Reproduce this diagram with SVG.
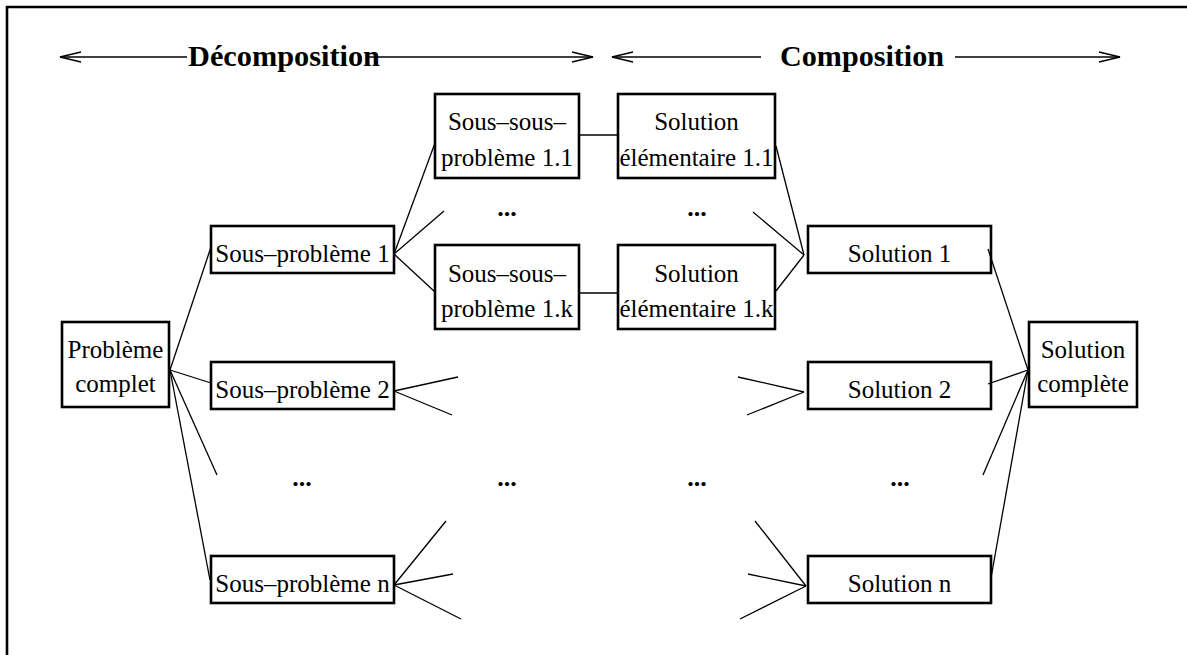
<svg xmlns="http://www.w3.org/2000/svg" width="1187" height="655" viewBox="0 0 1187 655">
  <style>
    .frame { fill: none; stroke: #000; stroke-width: 2.6; }
    .box { fill: #fff; stroke: #000; stroke-width: 2.6; }
    .t { font-family: "Liberation Serif", "Times New Roman", serif; font-size: 25px; text-anchor: middle; fill: #000; }
    .h { font-family: "Liberation Serif", "Times New Roman", serif; font-size: 29px; font-weight: bold; text-anchor: middle; fill: #000; }
    .dots { font-family: "Liberation Serif", "Times New Roman", serif; font-size: 26px; font-weight: bold; text-anchor: middle; fill: #000; }
    .ln { stroke: #000; stroke-width: 1.3; fill: none; }
  </style>

  <!-- outer frame (only top and left edges fall inside the page) -->
  <path class="frame" d="M7,655 V7 H1187"/>

  <!-- phase headers -->
  <g id="header-decomposition">
    <line class="ln" x1="60" y1="57" x2="187" y2="57"/>
    <line class="ln" x1="367" y1="57" x2="593" y2="57"/>
    <polyline class="ln" points="81,52 60,57 81,62"/>
    <polyline class="ln" points="572,52 593,57 572,62"/>
    <text class="h" x="284" y="66" textLength="192" lengthAdjust="spacingAndGlyphs">Décomposition</text>
  </g>
  <g id="header-composition">
    <line class="ln" x1="612" y1="57" x2="761" y2="57"/>
    <line class="ln" x1="955" y1="57" x2="1120" y2="57"/>
    <polyline class="ln" points="633,52 612,57 633,62"/>
    <polyline class="ln" points="1099,52 1120,57 1099,62"/>
    <text class="h" x="862" y="66" textLength="164" lengthAdjust="spacingAndGlyphs">Composition</text>
  </g>

  <!-- problem side -->
  <g id="probleme-complet">
    <rect class="box" x="62" y="322" width="107" height="85"/>
    <text class="t" x="115.5" y="358">Problème</text>
    <text class="t" x="115.5" y="392">complet</text>
  </g>
  <g id="sous-probleme-1">
    <rect class="box" x="211" y="226" width="183" height="47"/>
    <text class="t" x="302.5" y="262">Sous–problème 1</text>
  </g>
  <g id="sous-probleme-2">
    <rect class="box" x="211" y="362" width="183" height="47"/>
    <text class="t" x="302.5" y="398">Sous–problème 2</text>
  </g>
  <g id="sous-probleme-n">
    <rect class="box" x="211" y="556" width="183" height="47"/>
    <text class="t" x="302.5" y="592">Sous–problème n</text>
  </g>
  <g id="sous-sous-probleme-1-1">
    <rect class="box" x="435" y="94" width="144" height="84"/>
    <text class="t" x="507" y="130">Sous–sous–</text>
    <text class="t" x="507" y="166">problème 1.1</text>
  </g>
  <g id="sous-sous-probleme-1-k">
    <rect class="box" x="435" y="245" width="144" height="84"/>
    <text class="t" x="507" y="282">Sous–sous–</text>
    <text class="t" x="507" y="317">problème 1.k</text>
  </g>

  <!-- solution side -->
  <g id="solution-elementaire-1-1">
    <rect class="box" x="618" y="94" width="157" height="84"/>
    <text class="t" x="696.5" y="130">Solution</text>
    <text class="t" x="696.5" y="166">élémentaire 1.1</text>
  </g>
  <g id="solution-elementaire-1-k">
    <rect class="box" x="618" y="245" width="157" height="84"/>
    <text class="t" x="696.5" y="282">Solution</text>
    <text class="t" x="696.5" y="317">élémentaire 1.k</text>
  </g>
  <g id="solution-1">
    <rect class="box" x="808" y="226" width="183" height="47"/>
    <text class="t" x="899.5" y="262">Solution 1</text>
  </g>
  <g id="solution-2">
    <rect class="box" x="808" y="362" width="183" height="47"/>
    <text class="t" x="899.5" y="398">Solution 2</text>
  </g>
  <g id="solution-n">
    <rect class="box" x="808" y="556" width="183" height="47"/>
    <text class="t" x="899.5" y="592">Solution n</text>
  </g>
  <g id="solution-complete">
    <rect class="box" x="1029" y="322" width="108" height="85"/>
    <text class="t" x="1083" y="358">Solution</text>
    <text class="t" x="1083" y="392">complète</text>
  </g>

  <!-- elided branches -->
  <g id="ellipses">
    <text class="dots" x="507" y="216">...</text>
    <text class="dots" x="697" y="216">...</text>
    <text class="dots" x="302" y="486">...</text>
    <text class="dots" x="507" y="486">...</text>
    <text class="dots" x="697" y="486">...</text>
    <text class="dots" x="900" y="486">...</text>
  </g>

  <!-- connectors -->
  <g id="connectors">
    <!-- Problème complet fan-out -->
    <line class="ln" x1="170" y1="370" x2="211" y2="247"/>
    <line class="ln" x1="170" y1="370" x2="211" y2="383"/>
    <line class="ln" x1="170" y1="370" x2="217" y2="475"/>
    <line class="ln" x1="170" y1="370" x2="210" y2="580"/>
    <!-- Sous-problème 1 fan-out -->
    <line class="ln" x1="394" y1="254" x2="435" y2="143"/>
    <line class="ln" x1="394" y1="254" x2="444" y2="211"/>
    <line class="ln" x1="394" y1="254" x2="435" y2="292"/>
    <!-- Sous-problème 2 fan-out -->
    <line class="ln" x1="394" y1="391" x2="458" y2="377"/>
    <line class="ln" x1="394" y1="391" x2="452" y2="415"/>
    <!-- Sous-problème n fan-out -->
    <line class="ln" x1="394" y1="585" x2="446" y2="521"/>
    <line class="ln" x1="394" y1="585" x2="453" y2="574"/>
    <line class="ln" x1="394" y1="585" x2="461" y2="619"/>
    <!-- sub-sub-problem to elementary solution -->
    <line class="ln" x1="579" y1="135" x2="618" y2="135"/>
    <line class="ln" x1="579" y1="293" x2="618" y2="293"/>
    <!-- Solution 1 fan-in -->
    <line class="ln" x1="776" y1="146" x2="804" y2="255"/>
    <line class="ln" x1="753" y1="212" x2="804" y2="255"/>
    <line class="ln" x1="776" y1="291" x2="804" y2="255"/>
    <!-- Solution 2 fan-in -->
    <line class="ln" x1="738" y1="377" x2="804" y2="392"/>
    <line class="ln" x1="747" y1="415" x2="804" y2="392"/>
    <!-- Solution n fan-in -->
    <line class="ln" x1="755" y1="521" x2="806" y2="586"/>
    <line class="ln" x1="748" y1="574" x2="806" y2="586"/>
    <line class="ln" x1="740" y1="619" x2="806" y2="586"/>
    <!-- Solution complète fan-in -->
    <line class="ln" x1="988" y1="249" x2="1028" y2="370"/>
    <line class="ln" x1="988" y1="384" x2="1028" y2="370"/>
    <line class="ln" x1="983" y1="475" x2="1028" y2="370"/>
    <line class="ln" x1="991" y1="578" x2="1028" y2="370"/>
  </g>
</svg>
